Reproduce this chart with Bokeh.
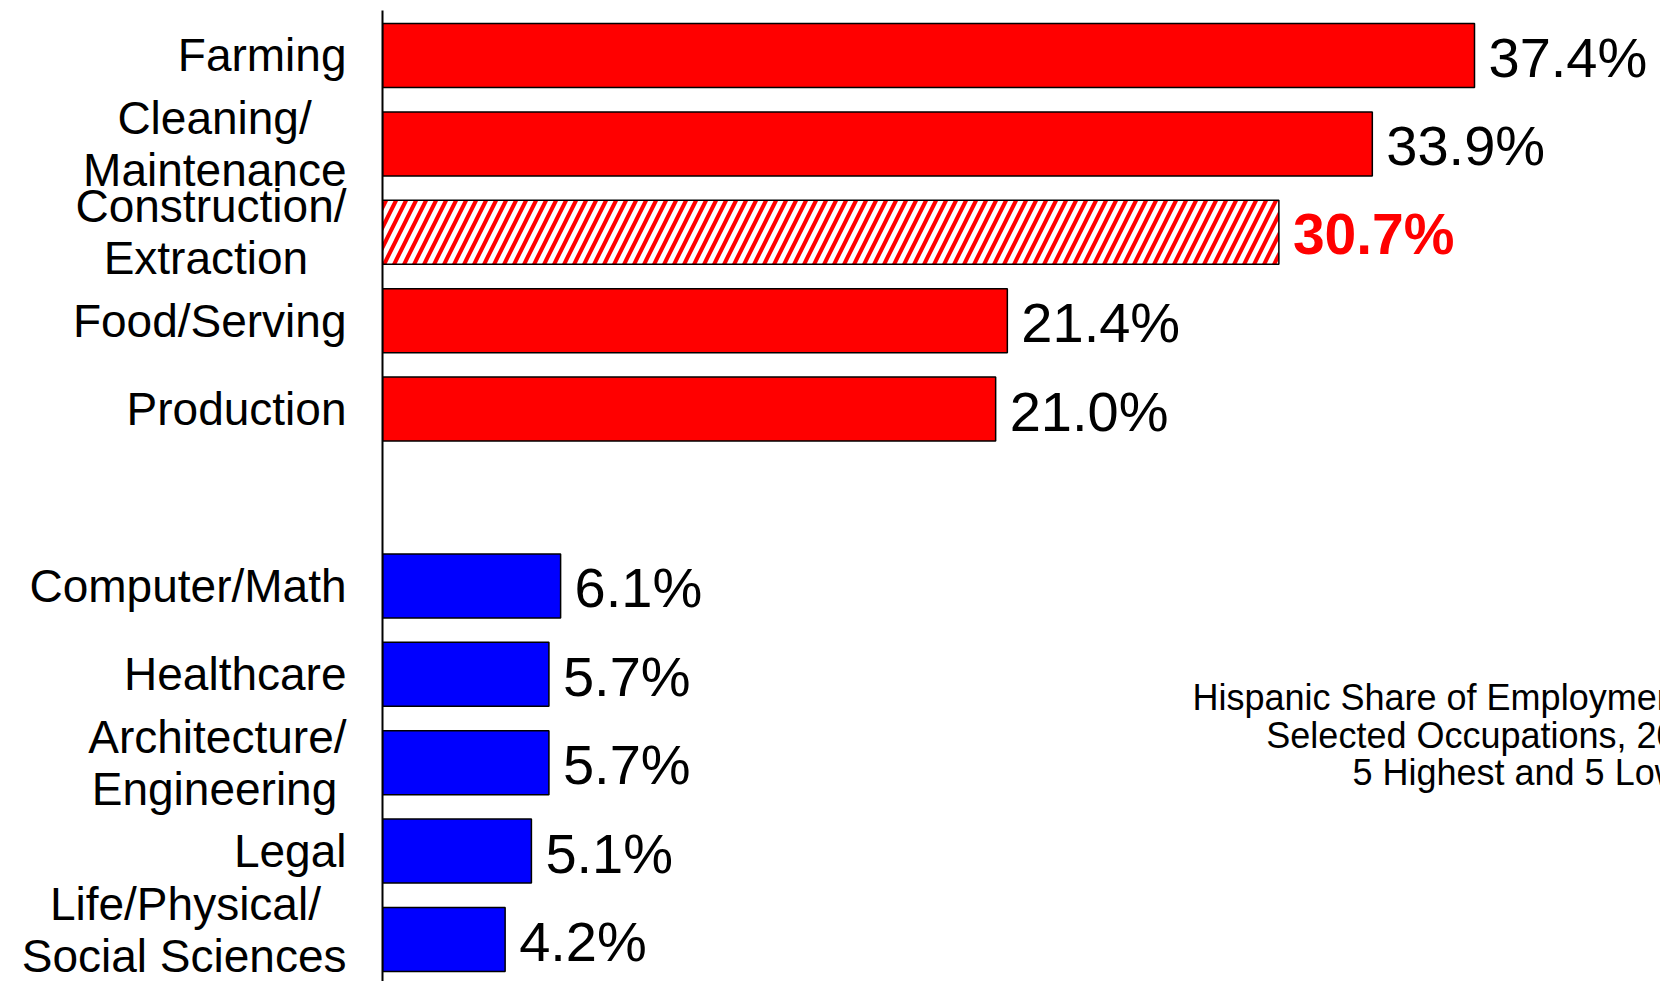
from bokeh.plotting import figure
from bokeh.models import ColumnDataSource, Range1d, FixedTicker
from bokeh.core.properties import value
from bokeh.embed import file_html
from bokeh.resources import INLINE

NB = "\u00a0"
TH = "\u2009"

# ---- data ----
categories = [
    "Farming",
    "Cleaning/" + NB + NB + TH + "\nMaintenance",
    "Construction/\nExtraction" + NB + NB + NB,
    "Food/Serving",
    "Production",
    "Computer/Math",
    "Healthcare",
    "Architecture/\nEngineering" + TH,
    "Legal",
    "Life/Physical/" + NB + NB + "\nSocial Sciences",
]
values = [37.4, 33.9, 30.7, 21.4, 21.0, 6.1, 5.7, 5.7, 5.1, 4.2]
groups = ["high"] * 5 + ["low"] * 5
highlight = [False, False, True, False, False, False, False, False, False, False]
group_colors = {"high": "#FF0000", "low": "#0000FF"}
title_lines = ["Hispanic Share of Employment in", "Selected Occupations, 2005", "5 Highest and 5 Lowest"]

# slot positions: highs, then a blank slot, then lows
positions = []
for i, g in enumerate(groups):
    positions.append(i if g == "high" else i + 1)

FONT = "Liberation Sans"

p = figure(width=1660, height=981, output_backend="svg", toolbar_location=None,
           x_range=Range1d(0, 43.77), y_range=Range1d(10.475, -0.509),
           x_axis_location=None, min_border_left=382, min_border_right=0,
           min_border_top=10, min_border_bottom=0)
p.outline_line_color = None
p.xgrid.visible = False
p.ygrid.visible = False
p.background_fill_color = "white"
p.border_fill_color = "white"

yax = p.yaxis[0]
yax.ticker = FixedTicker(ticks=positions)
yax.major_label_overrides = {pos: cat for pos, cat in zip(positions, categories)}
yax.major_tick_out = 0
yax.major_tick_in = 0
yax.minor_tick_out = 0
yax.minor_tick_in = 0
yax.axis_line_color = "black"
yax.axis_line_width = 2
yax.major_label_standoff = 36
yax.major_label_text_font = FONT
yax.major_label_text_font_size = "46px"
yax.major_label_text_line_height = 1.0
yax.major_label_text_color = "black"

normal = [i for i in range(len(values)) if not highlight[i]]
hi = [i for i in range(len(values)) if highlight[i]]

src_n = ColumnDataSource(dict(
    y=[positions[i] for i in normal],
    v=[values[i] for i in normal],
    c=[group_colors[groups[i]] for i in normal],
    t=[f"{values[i]:.1f}%" for i in normal],
))
src_h = ColumnDataSource(dict(
    y=[positions[i] for i in hi],
    v=[values[i] for i in hi],
    c=[group_colors[groups[i]] for i in hi],
    t=[f"{values[i]:.1f}%" for i in hi],
))

p.hbar(y="y", left=0, right="v", height=0.724, source=src_n,
       fill_color="c", line_color="black", line_width=1.5)
p.hbar(y="y", left=0, right="v", height=0.724, source=src_h,
       fill_color="white", hatch_pattern="/", hatch_color="c", hatch_scale=20,
       hatch_weight=4, line_color="black", line_width=1.5)

p.text(x="v", y="y", text="t", source=src_n, x_offset=14, y_offset=2,
       text_baseline="middle", text_align="left", text_font=value(FONT),
       text_font_size="56px", text_color="black")
p.text(x="v", y="y", text="t", source=src_h, x_offset=14, y_offset=2,
       text_baseline="middle", text_align="left", text_font=value(FONT),
       text_font_size="57px", text_font_style="bold", text_color="c")

src_t = ColumnDataSource(dict(x=[27.74, 30.27, 33.22], y=[7.262, 7.692, 8.110], t=title_lines))
p.text(x="x", y="y", text="t", source=src_t, text_baseline="alphabetic",
       text_align="left", text_font=value(FONT), text_font_size="36px", text_color="black")

open("out.html", "w").write(file_html(p, INLINE))
